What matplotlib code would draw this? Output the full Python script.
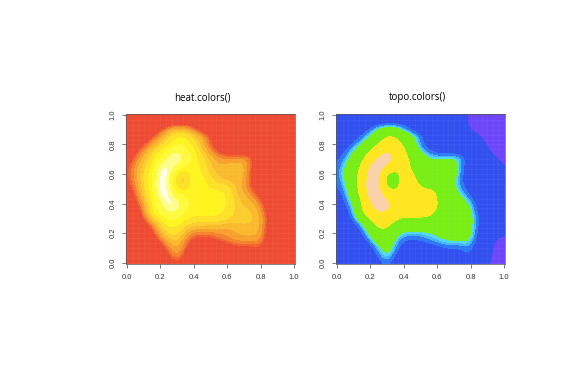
import numpy as np
import matplotlib
matplotlib.use('Agg')
import matplotlib.pyplot as plt
from matplotlib.colors import ListedColormap, BoundaryNorm

# heights, rows from y=1.0 down to y=0.0, columns x=0.0 to 1.0
heights = [
    [14, 14, 14, 14, 14, 14, 14, 14, 14, 13, 13, 12, 12, 12, 11, 10, 7, 6, 5, 4, 3],
    [14, 14, 14, 15, 15, 16, 17, 18, 18, 17, 15, 13, 12, 12, 11, 10, 7, 6, 5, 4, 3],
    [15, 15, 16, 18, 24, 38, 44, 42, 31, 20, 15, 13, 12, 12, 11, 10, 8, 7, 5, 4, 3],
    [15, 16, 18, 26, 38, 50, 64, 62, 50, 40, 28, 17, 13, 12, 12, 11, 9, 9, 7, 5, 4],
    [16, 18, 26, 36, 48, 62, 72, 70, 58, 42, 28, 18, 14, 14, 13, 12, 10, 9, 8, 6, 5],
    [18, 24, 36, 50, 64, 78, 88, 80, 66, 48, 36, 27, 20, 18, 19, 18, 13, 10, 9, 7, 6],
    [22, 30, 44, 56, 74, 90, 92, 82, 68, 56, 44, 36, 36, 37, 38, 30, 15, 11, 9, 9, 7],
    [24, 36, 48, 64, 90, 95, 86, 74, 68, 58, 47, 42, 42, 44, 42, 26, 16, 11, 9, 9, 8],
    [26, 38, 52, 70, 97, 94, 58, 50, 72, 62, 50, 44, 44, 46, 42, 25, 15, 11, 10, 10, 9],
    [24, 36, 52, 72, 98, 92, 50, 46, 74, 68, 56, 47, 45, 44, 39, 24, 15, 11, 10, 10, 9],
    [22, 32, 50, 72, 98, 92, 60, 56, 72, 68, 62, 60, 58, 46, 38, 28, 18, 12, 10, 10, 9],
    [18, 28, 46, 68, 95, 94, 80, 72, 64, 58, 68, 70, 60, 48, 42, 35, 24, 14, 11, 10, 9],
    [14, 24, 38, 62, 84, 96, 92, 76, 68, 62, 68, 68, 62, 50, 45, 42, 33, 18, 12, 10, 9],
    [12, 20, 33, 62, 80, 88, 88, 72, 68, 68, 68, 66, 60, 50, 48, 46, 37, 20, 12, 10, 9],
    [11, 16, 28, 48, 64, 76, 74, 66, 60, 61, 61, 60, 54, 50, 49, 48, 40, 24, 12, 10, 9],
    [10, 13, 20, 30, 50, 66, 64, 52, 46, 46, 45, 44, 42, 44, 45, 45, 40, 22, 12, 10, 9],
    [10, 12, 16, 24, 40, 54, 56, 42, 33, 33, 33, 36, 36, 40, 42, 42, 40, 20, 11, 9, 9],
    [10, 11, 13, 18, 30, 44, 48, 34, 24, 23, 24, 28, 33, 36, 37, 37, 36, 17, 11, 8, 7],
    [10, 10, 11, 14, 20, 33, 42, 30, 18, 16, 17, 18, 20, 25, 24, 26, 28, 14, 10, 7, 6],
    [9, 10, 10, 11, 15, 28, 38, 24, 13, 12, 12, 13, 14, 16, 18, 20, 26, 12, 10, 7, 6],
    [9, 9, 9, 10, 12, 20, 28, 18, 11, 10, 10, 11, 12, 13, 14, 15, 16, 10, 9, 6, 5],
]

heat_bounds = [0, 28, 31, 35, 40, 46, 52, 62, 72, 85, 92, 100]
heat_cols = ['#ee4b32', '#f0642e', '#f5822d', '#f8a02d', '#fab92d', '#fccd2d',
             '#fde128', '#fff51e', '#fffa3c', '#fffc8c', '#ffffe6']
topo_bounds = [0, 8, 24, 29, 32, 35, 60, 85, 100]
topo_cols = ['#6e46fa', '#3250f0', '#2c78f5', '#46b4fa', '#50d8f5', '#78ee14',
             '#ffe61e', '#fad2aa']

titles = ['heat.colors()', 'topo.colors()']
tick_vals = [0.0, 0.2, 0.4, 0.6, 0.8, 1.0]
tick_labels = ['0.0', '0.2', '0.4', '0.6', '0.8', '1.0']

W, H = 574, 388
fig = plt.figure(figsize=(W / 100, H / 100), dpi=100)
plt.rcParams['font.family'] = ['Liberation Sans', 'DejaVu Sans']


def panel(left, title, title_x, cols, bounds):
    ax = fig.add_axes([left / W, 1 - 264 / H, 169 / W, 150.5 / H])
    ax.imshow(heights, extent=(-0.025, 1.025, -0.025, 1.025), aspect='auto',
              cmap=ListedColormap(cols), norm=BoundaryNorm(bounds, len(cols)),
              interpolation='bicubic', interpolation_stage='data')
    ax.set_xlim(-0.006, 1.006)
    ax.set_ylim(-0.01, 1.01)
    ax.set_xticks(tick_vals, tick_labels, fontsize=5.5, color='#333333')
    ax.set_yticks(tick_vals, tick_labels, fontsize=5.5, color='#333333',
                  rotation=90, va='center')
    ax.tick_params(length=3, width=0.5, pad=4, color='#444444')
    for s in ax.spines.values():
        s.set_linewidth(0.5)
        s.set_color('#555555')
    # faint lighter lines from the cell edges of the original image
    for v in np.arange(0, 1, 1 / 30):
        ax.axvline(v, color='white', lw=0.4, alpha=0.07)
        ax.axhline(v, color='white', lw=0.4, alpha=0.07)
    fig.text(title_x / W, 1 - 97.5 / H, title, fontsize=7, ha='center', va='center',
             family=['Open Sans', 'DejaVu Sans'], color='black')


panel(126, titles[0], 202, heat_cols, heat_bounds)
panel(336, titles[1], 417, topo_cols, topo_bounds)

fig.savefig('out.png', dpi=100)
